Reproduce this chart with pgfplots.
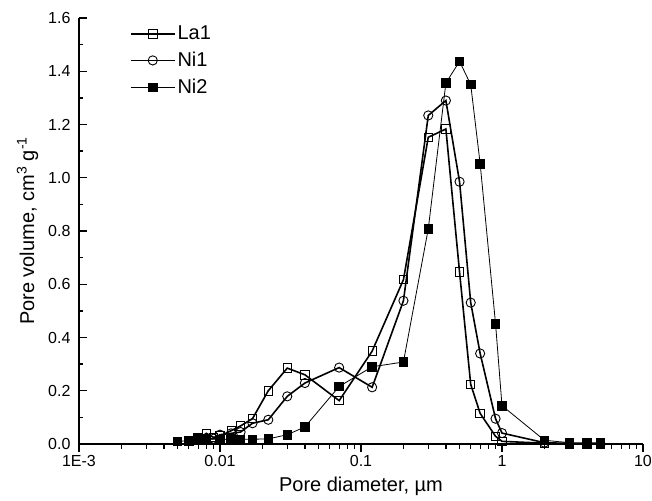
\documentclass[border=0pt]{standalone}
\usepackage{fontspec}
\setmainfont{Liberation Sans}
\usepackage{pgfplots}
\pgfplotsset{compat=1.18}

\pgfplotstableread{
x      y
0.007  0.020
0.008  0.040
0.009  0.025
0.010  0.030
0.012  0.050
0.014  0.068
0.017  0.095
0.022  0.200
0.030  0.285
0.040  0.260
0.070  0.163
0.120  0.349
0.200  0.617
0.300  1.152
0.400  1.183
0.500  0.646
0.600  0.224
0.700  0.115
0.900  0.029
1.000  0.010
2.000  0.003
3.000  0.000
4.000  0.000
5.000  0.000
}\laone

\pgfplotstableread{
x      y
0.007  0.015
0.008  0.020
0.009  0.020
0.010  0.035
0.012  0.040
0.014  0.045
0.017  0.078
0.022  0.091
0.030  0.179
0.040  0.229
0.070  0.287
0.120  0.213
0.200  0.538
0.300  1.234
0.400  1.290
0.500  0.985
0.600  0.531
0.700  0.340
0.900  0.095
1.000  0.041
2.000  0.005
3.000  0.002
4.000  0.000
5.000  0.000
}\nione

\pgfplotstableread{
x      y
0.005  0.010
0.006  0.012
0.007  0.022
0.008  0.019
0.010  0.017
0.012  0.018
0.014  0.018
0.017  0.018
0.022  0.019
0.030  0.035
0.040  0.064
0.070  0.216
0.120  0.290
0.200  0.308
0.300  0.808
0.400  1.356
0.500  1.437
0.600  1.350
0.700  1.053
0.900  0.452
1.000  0.144
2.000  0.014
3.000  0.005
4.000  0.005
5.000  0.005
}\nitwo

\begin{document}
\begin{tikzpicture}
\begin{semilogxaxis}[
    scale only axis,
    width=564pt, height=426pt,
    xmin=0.001, xmax=10,
    ymin=0, ymax=1.6,
    axis x line*=bottom, axis y line*=left,
    axis line style={line width=1.5pt},
    xtick align=outside, ytick align=inside,
    major tick length=8pt, minor tick length=4.5pt,
    every tick/.style={line width=1.3pt, black},
    xtick={0.001,0.01,0.1,1,10},
    xticklabels={1E-3,0.01,0.1,1,10},
    ytick={0,0.2,...,1.6},
    minor ytick={0.1,0.3,...,1.5},
    yticklabel style={xshift=-5pt, /pgf/number format/.cd, fixed, fixed zerofill, precision=1},
    /pgf/number format/assume math mode=true,
    tick label style={font=\fontsize{16}{19}\selectfont},
    label style={font=\fontsize{20}{24}\selectfont},
    xlabel={Pore diameter, µm},
    ylabel={Pore volume, cm\textsuperscript{3} g\textsuperscript{-1}},
    xlabel style={yshift=-3pt},
    ylabel style={yshift=3pt},
    legend style={draw=none, fill=none, inner sep=0pt, at={(0.09,0.986)}, anchor=north west,
                  font=\fontsize{20}{24}\selectfont, row sep=7pt,
                  nodes={font=\fontsize{20}{24}\selectfont},
                  /tikz/every even column/.append style={column sep=8pt}},
    legend cell align=left,
    legend image code/.code={
        \draw[mark repeat=2, mark phase=2] plot coordinates {(0pt,0pt) (22pt,0pt) (44pt,0pt)};},
    clip=false,
]
\coordinate (bl) at (rel axis cs:0,0);
\coordinate (tr) at (rel axis cs:1,1);
\addplot[black, line width=1.6pt, mark=square, mark size=4.2pt,
         mark options={solid, line width=0.9pt, fill=white}] table {\laone};
\addlegendentry{La1}
\addplot[black, line width=1.6pt, mark=o, mark size=4.6pt,
         mark options={solid, line width=0.9pt, fill=white}] table {\nione};
\addlegendentry{Ni1}
\addplot[black, line width=0.8pt, mark=square*, mark size=4.3pt,
         mark options={solid, fill=black}] table {\nitwo};
\addlegendentry{Ni2}
\end{semilogxaxis}
\pgfresetboundingbox
\path[use as bounding box] ([shift={(-79pt,-56pt)}]bl) rectangle ([shift={(9pt,18pt)}]tr);
\end{tikzpicture}
\end{document}
